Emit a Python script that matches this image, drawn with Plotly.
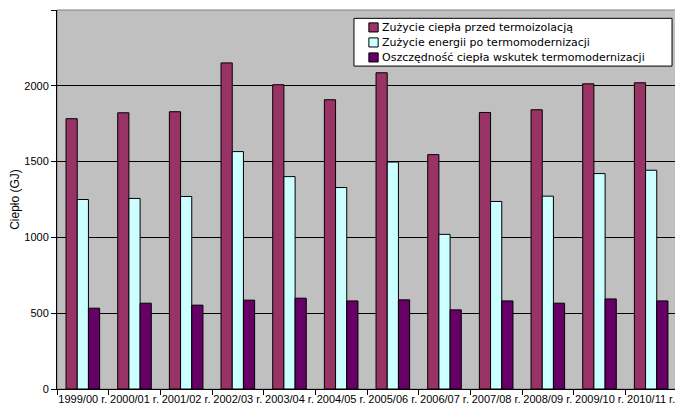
import plotly.graph_objects as go

sezony = ['1999/00 r.', '2000/01 r.', '2001/02 r.', '2002/03 r.', '2003/04 r.', '2004/05 r.',
          '2005/06 r.', '2006/07 r.', '2007/08 r.', '2008/09 r.', '2009/10 r.', '2010/11 r.']
przed = [1783, 1822, 1829, 2151, 2007, 1908, 2086, 1546, 1824, 1842, 2013, 2020]
po = [1250, 1257, 1270, 1566, 1401, 1329, 1497, 1020, 1237, 1272, 1421, 1443]
oszczednosc = [533, 566, 553, 586, 599, 581, 588, 522, 581, 566, 594, 581]

nazwy = ['Zużycie ciepła przed termoizolacją',
         'Zużycie energii po termomodernizacji',
         'Oszczędność ciepła wskutek termomodernizacji']
kolory = ['#993366', '#CCFFFF', '#660066']

data = []
for nazwa, wartosci, kolor in zip(nazwy, [przed, po, oszczednosc], kolory):
    data.append(go.Bar(x=sezony, y=wartosci, name=nazwa, showlegend=False,
                       marker=dict(color=kolor, line=dict(color='black', width=1))))

# plot frame (grey) behind the bars
shapes = [dict(type='rect', xref='paper', yref='paper', x0=0, x1=1, y0=0, y1=1,
               line=dict(color='#808080', width=1), layer='below')]
annotations = []

# compact legend box like Excel's (plotly's own legend rows are too tall)
shapes.append(dict(type='rect', xref='paper', yref='paper', x0=0.479, x1=0.992,
                   y0=0.852, y1=0.978, fillcolor='white',
                   line=dict(color='black', width=1), layer='above'))
for i, (nazwa, kolor) in enumerate(zip(nazwy, kolory)):
    yc = 0.954 - i * 0.0396
    shapes.append(dict(type='rect', xref='paper', yref='paper', x0=0.503, x1=0.518,
                       y0=yc - 0.012, y1=yc + 0.012, fillcolor=kolor,
                       line=dict(color='black', width=1), layer='above'))
    annotations.append(dict(xref='paper', yref='paper', x=0.521, y=yc, text=nazwa,
                            showarrow=False, xanchor='left', yanchor='middle',
                            font=dict(family='DejaVu Sans, sans-serif', size=11)))

# the page body has an 8px margin, so the margins are shifted to compensate
layout = go.Layout(
    width=683, height=415,
    margin=dict(l=49, r=14, t=2, b=34),
    paper_bgcolor='white',
    plot_bgcolor='#C0C0C0',
    font=dict(family='Liberation Sans, Arial, sans-serif', size=11, color='black'),
    barmode='group',
    bargap=0.35,
    bargroupgap=0,
    xaxis=dict(showgrid=False, showline=True, linecolor='black', linewidth=1,
               ticks='outside', tickson='boundaries', ticklen=5, tickcolor='black',
               tickangle=0, tickfont=dict(size=11), automargin=False),
    yaxis=dict(range=[0, 2500], dtick=500, showgrid=True, gridcolor='black', gridwidth=1,
               showline=True, linecolor='black', linewidth=1, ticks='outside', ticklen=5,
               tickcolor='black', zeroline=False, automargin=False,
               title=dict(text='Ciepło (GJ)', font=dict(size=12), standoff=8)),
    shapes=shapes,
    annotations=annotations,
)

fig = go.Figure(data=data, layout=layout)
fig.write_html('out.html')
